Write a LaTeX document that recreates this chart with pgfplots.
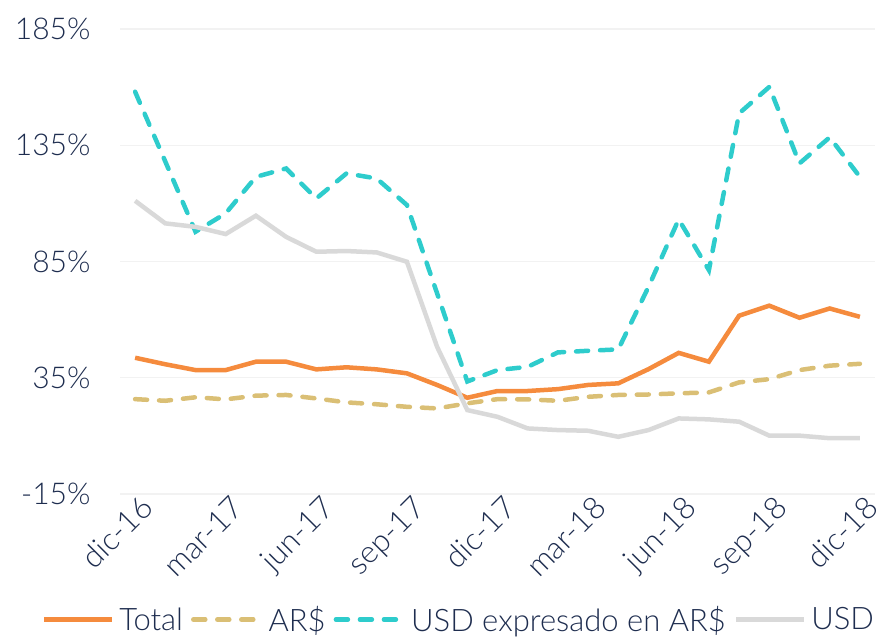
\documentclass[border=0pt]{standalone}
\usepackage{pgfplots}
\pgfplotsset{compat=1.18}
\usepackage{fontspec}
\setmainfont{Lato}[UprightFont=* Light]
\definecolor{ctot}{HTML}{F58B3D}
\definecolor{cars}{HTML}{DABF75}
\definecolor{cusd}{HTML}{2ECCCC}
\definecolor{cgray}{HTML}{D9D9D9}
\definecolor{ctext}{HTML}{1E2D4F}
\definecolor{cgrid}{HTML}{F2F2F2}
\pgfplotstableread{
i total ars usdars usd
0 43.6 25.8 158.0 111.1
1 40.8 25.1 128.0 101.4
2 38.3 26.6 97.8 99.9
3 38.3 25.7 105.7 96.8
4 41.9 27.3 121.4 104.7
5 41.9 27.6 125.0 95.6
6 38.6 26.1 112.1 89.2
7 39.5 24.4 122.9 89.5
8 38.6 23.6 120.7 88.9
9 36.9 22.5 109.3 84.9
10 31.9 21.8 71.3 48.3
11 26.4 24.0 33.4 21.1
12 29.3 25.8 38.3 18.2
13 29.3 25.7 39.7 13.2
14 30.1 25.1 45.9 12.5
15 31.9 26.8 46.6 12.2
16 32.6 27.6 47.2 9.6
17 38.7 27.8 74.1 12.5
18 45.7 28.3 103.1 17.5
19 41.9 28.7 81.3 17.1
20 61.7 33.0 148.7 16.1
21 66.0 34.4 160.1 10.1
22 60.8 38.3 127.2 10.1
23 64.8 40.2 138.4 9.0
24 61.2 41.0 121.4 9.0
}\datatab
\begin{document}
\begin{tikzpicture}
\begin{axis}[
  at={(0pt,0pt)}, anchor=south west,
  scale only axis, width=755pt, height=465pt,
  xmin=-0.5, xmax=24.5, ymin=-15, ymax=185,
  ytick={-15,35,85,135,185},
  yticklabel={\pgfmathprintnumber{\tick}\%},
  /pgf/number format/assume math mode=true,
  xtick={0,3,...,24},
  xticklabels={dic-16,mar-17,jun-17,sep-17,dic-17,mar-18,jun-18,sep-18,dic-18},
  x tick label style={rotate=45, anchor=north east, font=\fontsize{31}{35}\selectfont, text=ctext, inner sep=0pt, xshift=3pt, yshift=-3pt},
  y tick label style={font=\fontsize{30}{34}\selectfont, text=ctext, anchor=east, xshift=-26pt},
  axis line style={draw=none}, tick style={draw=none},
  ymajorgrids, grid style={cgrid, line width=1.2pt},
  legend style={at={(0.449,-0.27)}, anchor=center, legend columns=-1, draw=none, fill=none,
    font=\fontsize{31}{35}\selectfont, text=ctext, column sep=3pt, inner sep=0pt,
    /tikz/every even column/.append style={column sep=6pt}},
  legend image code/.code={\draw[#1] (0pt,0pt) -- (68pt,0pt);},
]
\addplot[ctot, line width=4.5pt] table[x=i, y=total] {\datatab};
\addlegendentry{Total}
\addplot[cars, line width=4.5pt, line cap=round, dash pattern=on 12pt off 12pt] table[x=i, y=ars] {\datatab};
\addlegendentry{AR\$}
\addplot[cusd, line width=4.5pt, line cap=round, dash pattern=on 12pt off 12pt] table[x=i, y=usdars] {\datatab};
\addlegendentry{USD expresado en AR\$}
\addplot[cgray, line width=4.5pt] table[x=i, y=usd] {\datatab};
\addlegendentry{USD}
\end{axis}
\pgfresetboundingbox
\useasboundingbox (-120pt,-144pt) rectangle (761pt,494pt);
\end{tikzpicture}
\end{document}
